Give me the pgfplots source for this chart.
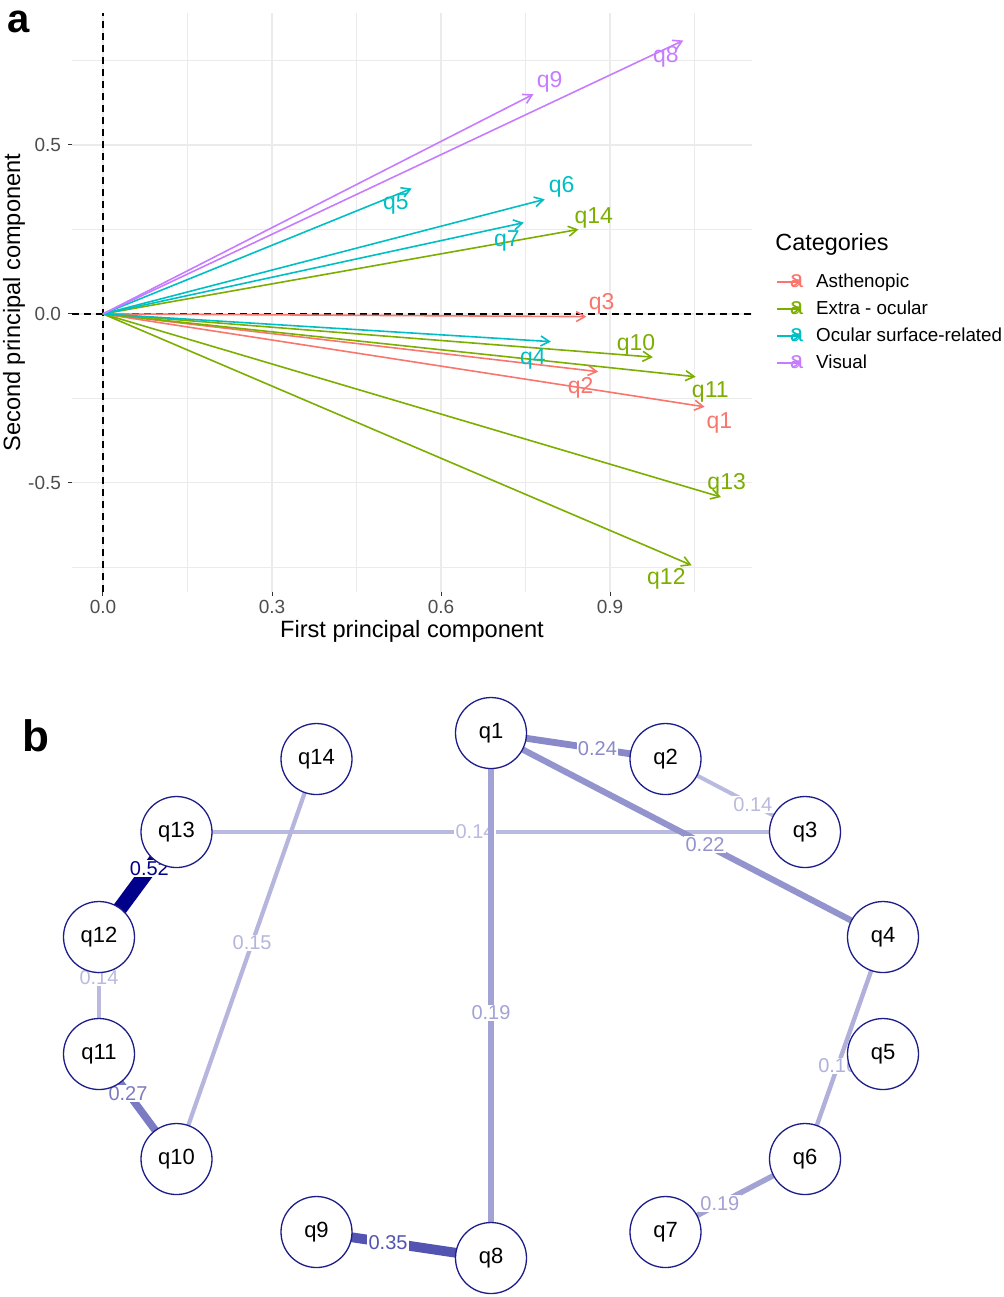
\documentclass[border=0pt]{standalone}
\usepackage{fontspec}
\setmainfont{Liberation Sans}
\usepackage{pgfplots}
\pgfplotsset{compat=1.18}
\usepackage{pgfplotstable}
\usetikzlibrary{arrows.meta}

% ggplot hues
\definecolor{cA}{HTML}{F8766D}
\definecolor{cE}{HTML}{7CAE00}
\definecolor{cO}{HTML}{00BFC4}
\definecolor{cV}{HTML}{C77CFF}
\definecolor{cGrid}{HTML}{EBEBEB}
\definecolor{cTick}{HTML}{333333}
\definecolor{cLab}{HTML}{4D4D4D}
% network edges: darkblue faded by weight
\definecolor{cNode}{HTML}{1C1C8A}
\definecolor{e52}{HTML}{00008B}
\definecolor{e35}{HTML}{5353B1}
\definecolor{e27}{HTML}{7B7BC3}
\definecolor{e24}{HTML}{8989CA}
\definecolor{e22}{HTML}{9393CE}
\definecolor{e19}{HTML}{A2A2D5}
\definecolor{e16}{HTML}{B0B0DB}
\definecolor{e15}{HTML}{B5B5DD}
\definecolor{e14}{HTML}{BABAE0}

\newcommand{\catkey}[1]{%
  \draw[#1, line width=0.8pt, -{Straight Barb[length=3.5pt,width=4.5pt]}] (0pt,0pt) -- (12pt,0pt);
  \node[text=#1, inner sep=0pt, font=\fontsize{12}{12}\selectfont] at (6pt,0pt) {a};}

% loadings: arrow tip (u,v) and label position (lx,ly)
\pgfplotstableread{
ox oy u v lx ly name
0 0 1.068 -0.275 1.094 -0.322 q1
0 0 0.879 -0.171 0.848 -0.218 q2
0 0 0.858 -0.008 0.885 0.030 q3
}\tabA
\pgfplotstableread{
ox oy u v lx ly name
0 0 0.976 -0.128 0.946 -0.092 q10
0 0 1.052 -0.186 1.078 -0.232 q11
0 0 1.045 -0.744 1.000 -0.784 q12
0 0 1.097 -0.542 1.107 -0.502 q13
0 0 0.844 0.250 0.871 0.283 q14
}\tabE
\pgfplotstableread{
ox oy u v lx ly name
0 0 0.795 -0.082 0.763 -0.133 q4
0 0 0.548 0.371 0.520 0.325 q5
0 0 0.784 0.339 0.814 0.377 q6
0 0 0.747 0.270 0.717 0.217 q7
}\tabO
\pgfplotstableread{
ox oy u v lx ly name
0 0 1.030 0.809 0.999 0.761 q8
0 0 0.764 0.650 0.793 0.687 q9
}\tabV

% network nodes (page pixel frame)
\pgfplotstableread{
x y name
491 733 q1
665.5 759 q2
805 832 q3
883 937 q4
883 1054 q5
805 1159 q6
665.5 1232 q7
491 1258 q8
316.5 1232 q9
176.5 1159 q10
99 1054 q11
99 937 q12
176.5 832 q13
316.5 759 q14
}\nodestab

\tikzset{elab/.style={fill=white, inner sep=0.6pt, font=\fontsize{10}{12}\selectfont}}

\begin{document}
\begin{tikzpicture}
\useasboundingbox (0,0) rectangle (501.5pt,-648.5pt);

% ---------- panel b (and page-level text) ----------
\begin{axis}[
  at={(0,0)}, anchor=north west,
  width=501.5pt, height=648.5pt, scale only axis,
  xmin=0, xmax=1003, ymin=0, ymax=1297, y dir=reverse,
  hide axis, clip=false]

  \addplot[e14, line width=2.0pt] coordinates {(176.5,832) (805,832)}
    node[pos=0.475, elab, text=e14] {0.14};
  \addplot[e19, line width=2.7pt] coordinates {(491,733) (491,1258)}
    node[pos=0.533, elab, text=e19] {0.19};
  \addplot[e24, line width=3.4pt] coordinates {(491,733) (665.5,759)}
    node[pos=0.61, elab, text=e24] {0.24};
  \addplot[e14, line width=2.0pt] coordinates {(665.5,759) (805,832)}
    node[pos=0.626, elab, text=e14] {0.14};
  \addplot[e22, line width=3.1pt] coordinates {(491,733) (883,937)}
    node[pos=0.546, elab, text=e22] {0.22};
  \addplot[e52, line width=7.3pt] coordinates {(99,937) (176.5,832)}
    node[pos=0.65, elab, text=e52] {0.52};
  \addplot[e14, line width=2.0pt] coordinates {(99,1054) (99,937)}
    node[pos=0.65, elab, text=e14] {0.14};
  \addplot[e15, line width=2.1pt] coordinates {(176.5,1159) (316.5,759)}
    node[pos=0.54, elab, text=e15] {0.15};
  \addplot[e27, line width=3.8pt] coordinates {(176.5,1159) (99,1054)}
    node[pos=0.626, elab, text=e27] {0.27};
  \addplot[e35, line width=4.9pt] coordinates {(491,1258) (316.5,1232)}
    node[pos=0.59, elab, text=e35] {0.35};
  \addplot[e16, line width=2.2pt] coordinates {(883,937) (805,1159)}
    node[pos=0.58, elab, text=e16] {0.16};
  \addplot[e19, line width=2.7pt] coordinates {(805,1159) (665.5,1232)}
    node[pos=0.61, elab, text=e19] {0.19};

  \addplot[only marks, mark=*, mark size=17.75pt,
    mark options={fill=white, draw=cNode, line width=0.65pt},
    nodes near coords, point meta=explicit symbolic,
    nodes near coords style={anchor=center, text=black, font=\fontsize{11}{12}\selectfont}]
    table[x=x, y=y, meta=name] {\nodestab};

  \node[anchor=base west, inner sep=0pt, font=\fontsize{20}{20}\selectfont\bfseries] at (axis cs:7,32) {a};
  \node[anchor=base west, inner sep=0pt, font=\fontsize{22}{22}\selectfont\bfseries] at (axis cs:22,751) {b};
  \node[anchor=base west, inner sep=0pt, font=\fontsize{11.7}{14}\selectfont] at (axis cs:775,250) {Categories};
\end{axis}

% ---------- panel a ----------
\begin{axis}[
  at={(36pt,-296pt)}, anchor=south west,
  width=340pt, height=289.25pt, scale only axis,
  xmin=-0.055, xmax=1.152, ymin=-0.823, ymax=0.889,
  xtick={0,0.3,0.6,0.9}, xticklabels={0.0,0.3,0.6,0.9},
  ytick={-0.5,0,0.5}, yticklabels={-0.5,0.0,0.5},
  minor xtick={0.15,0.45,0.75,1.05}, minor ytick={-0.75,-0.25,0.25,0.75},
  grid=both,
  major grid style={draw=cGrid, line width=0.6pt},
  minor grid style={draw=cGrid, line width=0.3pt},
  axis line style={draw=none},
  tick align=outside, xtick pos=left, ytick pos=left,
  major tick length=2pt, minor tick length=0pt,
  tick style={draw=cTick, line width=0.5pt},
  ticklabel style={font=\fontsize{9.5}{11}\selectfont, text=cLab},
  xticklabel style={inner sep=2pt},
  xlabel={First principal component},
  ylabel={Second principal component},
  label style={font=\fontsize{11.8}{14}\selectfont},
  xlabel style={at={(axis description cs:0.5,-0.0674)}, anchor=center},
  ylabel style={at={(axis description cs:-0.0853,0.5)}, anchor=center},
  clip=false,
  legend cell align=left,
  legend style={at={(1.035,0.552)}, anchor=north west, draw=none, fill=none,
    inner sep=0pt, row sep=4.5pt, font=\fontsize{9.4}{11}\selectfont,
    nodes={inner sep=0pt, text height=7pt, text depth=2pt},
    /tikz/every odd column/.append style={column sep=6.5pt}},
  nodes near coords style={anchor=center, font=\fontsize{11.5}{13}\selectfont},
  ]

  \addplot[black, line width=0.7pt, dash pattern=on 3.5pt off 2.5pt, forget plot]
    coordinates {(-0.055,0) (1.152,0)};
  \addplot[black, line width=0.7pt, dash pattern=on 3.5pt off 2.5pt, forget plot]
    coordinates {(0,-0.823) (0,0.889)};

  \addplot[cA, line width=0.8pt, -{Straight Barb[length=4.3pt,width=5pt]},
    quiver={u=\thisrow{u}, v=\thisrow{v}}, legend image code/.code={\catkey{cA}}]
    table[x=ox, y=oy] {\tabA};
  \addlegendentry{Asthenopic}
  \addplot[cE, line width=0.8pt, -{Straight Barb[length=4.3pt,width=5pt]},
    quiver={u=\thisrow{u}, v=\thisrow{v}}, legend image code/.code={\catkey{cE}}]
    table[x=ox, y=oy] {\tabE};
  \addlegendentry{Extra - ocular}
  \addplot[cO, line width=0.8pt, -{Straight Barb[length=4.3pt,width=5pt]},
    quiver={u=\thisrow{u}, v=\thisrow{v}}, legend image code/.code={\catkey{cO}}]
    table[x=ox, y=oy] {\tabO};
  \addlegendentry{Ocular surface-related}
  \addplot[cV, line width=0.8pt, -{Straight Barb[length=4.3pt,width=5pt]},
    quiver={u=\thisrow{u}, v=\thisrow{v}}, legend image code/.code={\catkey{cV}}]
    table[x=ox, y=oy] {\tabV};
  \addlegendentry{Visual}

  \addplot[draw=none, forget plot, nodes near coords, point meta=explicit symbolic,
    nodes near coords style={text=cA}] table[x=lx, y=ly, meta=name] {\tabA};
  \addplot[draw=none, forget plot, nodes near coords, point meta=explicit symbolic,
    nodes near coords style={text=cE}] table[x=lx, y=ly, meta=name] {\tabE};
  \addplot[draw=none, forget plot, nodes near coords, point meta=explicit symbolic,
    nodes near coords style={text=cO}] table[x=lx, y=ly, meta=name] {\tabO};
  \addplot[draw=none, forget plot, nodes near coords, point meta=explicit symbolic,
    nodes near coords style={text=cV}] table[x=lx, y=ly, meta=name] {\tabV};
\end{axis}
\end{tikzpicture}
\end{document}
